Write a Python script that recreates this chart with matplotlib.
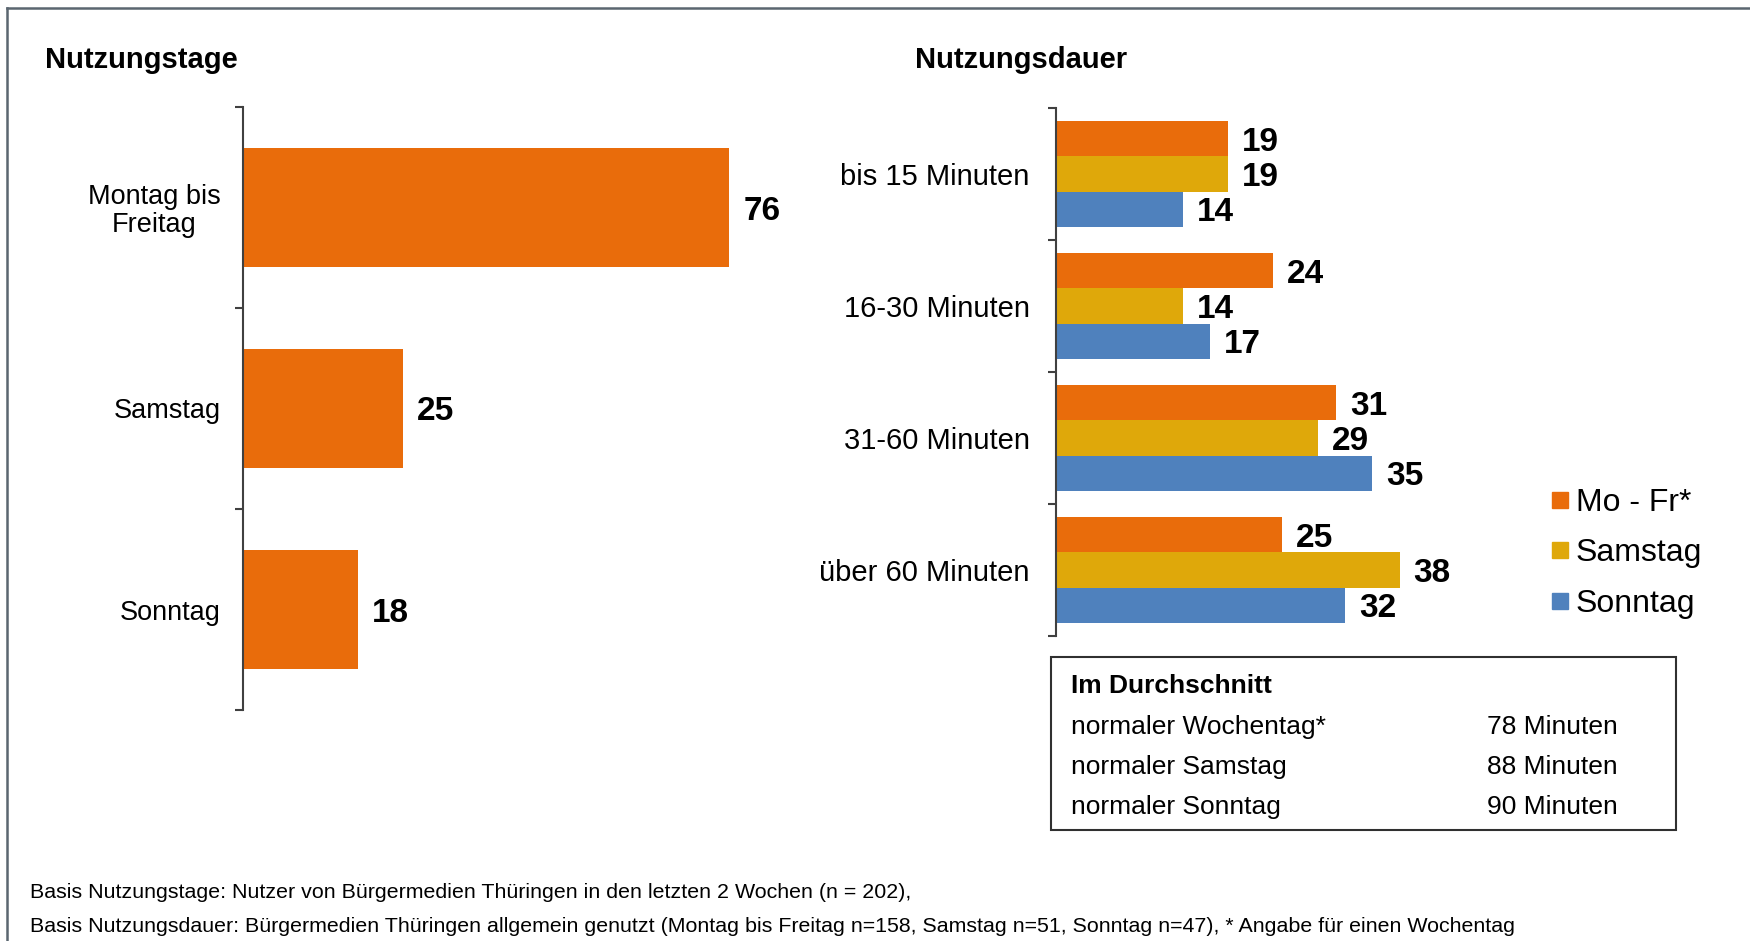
import matplotlib
matplotlib.use("Agg")
from matplotlib import pyplot as plt
from matplotlib.lines import Line2D
from matplotlib.patches import Rectangle
import numpy as np

plt.rcParams['font.family'] = ['Liberation Sans', 'DejaVu Sans']

# Nutzungstage
tage_labels = ["Montag bis\nFreitag", "Samstag", "Sonntag"]
tage_values = [76, 25, 18]

# Nutzungsdauer
dauer_labels = ["bis 15 Minuten", "16-30 Minuten", "31-60 Minuten", "über 60 Minuten"]
series_names = ["Mo - Fr*", "Samstag", "Sonntag"]
mofr = [19, 24, 31, 25]
samstag = [19, 14, 29, 38]
sonntag = [14, 17, 35, 32]

avg_labels = ["normaler Wochentag*", "normaler Samstag", "normaler Sonntag"]
avg_values = ["78 Minuten", "88 Minuten", "90 Minuten"]

notes = [
    "Basis Nutzungstage: Nutzer von Bürgermedien Thüringen in den letzten 2 Wochen (n = 202),",
    "Basis Nutzungsdauer: Bürgermedien Thüringen allgemein genutzt (Montag bis Freitag n=158, "
    "Samstag n=51, Sonntag n=47), * Angabe für einen Wochentag",
]

ORANGE = "#E96C0B"
YELLOW = "#DFA80A"
BLUE = "#4F81BD"
colors = [ORANGE, YELLOW, BLUE]

W, H = 1750, 941
fig = plt.figure(figsize=(17.5, 9.41), dpi=100)


def fx(px):
    return px / W


def fy(py):
    return 1 - py / H


def style_axis(ax, n, pad, size):
    for s in ["top", "right", "bottom"]:
        ax.spines[s].set_visible(False)
    ax.spines["left"].set_color("#404040")
    ax.spines["left"].set_linewidth(1.5)
    ax.set_xticks([])
    ax.set_ylim(n - 0.5, -0.5)
    ax.set_yticks(np.arange(n + 1) - 0.5)
    ax.set_yticklabels([])
    ax.tick_params(axis="y", which="major", length=6, width=1.5, color="#404040")
    ax.set_yticks(np.arange(n), minor=True)
    ax.tick_params(axis="y", which="minor", length=0, pad=pad, labelsize=size)


# left chart
ax1 = fig.add_axes([fx(243), fy(710), fx(560), (710 - 107) / H])
y1 = np.arange(len(tage_values))
ax1.barh(y1, tage_values, height=0.59, color=ORANGE)
ax1.set_xlim(0, 560 / 6.4)
style_axis(ax1, len(tage_values), 16, 19.5)
ax1.set_yticklabels(tage_labels, minor=True, multialignment="center", linespacing=1.1)
for y, v in zip(y1, tage_values):
    ax1.annotate(str(v), (v, y), xytext=(10, 0), textcoords="offset points",
                 ha="left", va="center_baseline", fontsize=24, fontweight="bold")

# right chart
ax2 = fig.add_axes([fx(1056), fy(636), fx(400), (636 - 108) / H])
y2 = np.arange(len(dauer_labels))
bh = 0.268
for i, (vals, c, name) in enumerate(zip([mofr, samstag, sonntag], colors, series_names)):
    pos = y2 + (i - 1) * bh
    ax2.barh(pos, vals, height=bh, color=c, label=name)
    for y, v in zip(pos, vals):
        ax2.annotate(str(v), (v, y), xytext=(10, 0), textcoords="offset points",
                     ha="left", va="center_baseline", fontsize=24, fontweight="bold")
ax2.set_xlim(0, 400 / 9.04)
style_axis(ax2, len(dauer_labels), 19, 21)
ax2.set_yticklabels(dauer_labels, minor=True)

handles = [Line2D([], [], marker="s", linestyle="none", markersize=11,
                  markerfacecolor=c, markeredgecolor=c) for c in colors]
fig.legend(handles, series_names, loc="upper left", bbox_to_anchor=(fx(1534), fy(472)),
           frameon=False, fontsize=23, handlelength=0.6, handletextpad=0.2,
           labelspacing=0.64, borderpad=0)

# titles
fig.text(fx(45), fy(60), "Nutzungstage", fontsize=21, fontweight="bold", va="center")
fig.text(fx(915), fy(60), "Nutzungsdauer", fontsize=21, fontweight="bold", va="center")

# average box
fig.add_artist(Rectangle((fx(1051), fy(830)), fx(1676 - 1051), (830 - 657) / H,
                         transform=fig.transFigure, fill=False, edgecolor="#303030", linewidth=1.5))
fig.text(fx(1071), fy(686), "Im Durchschnitt", fontsize=19, fontweight="bold", va="center")
for i, (lab, val) in enumerate(zip(avg_labels, avg_values)):
    yy = 727 + i * 40
    fig.text(fx(1071), fy(yy), lab, fontsize=19, va="center")
    fig.text(fx(1487), fy(yy), val, fontsize=19, va="center")

# footnotes
fig.text(fx(30), fy(892), notes[0], fontsize=15.4, va="center")
fig.text(fx(30), fy(926), notes[1], fontsize=15.4, va="center")

# frame
fig.add_artist(Line2D([fx(7), 1], [fy(8), fy(8)], transform=fig.transFigure,
                      color="#5B6670", linewidth=1.8))
fig.add_artist(Line2D([fx(7), fx(7)], [fy(8), 0], transform=fig.transFigure,
                      color="#5B6670", linewidth=1.8))

fig.savefig("out.png", dpi=100)
